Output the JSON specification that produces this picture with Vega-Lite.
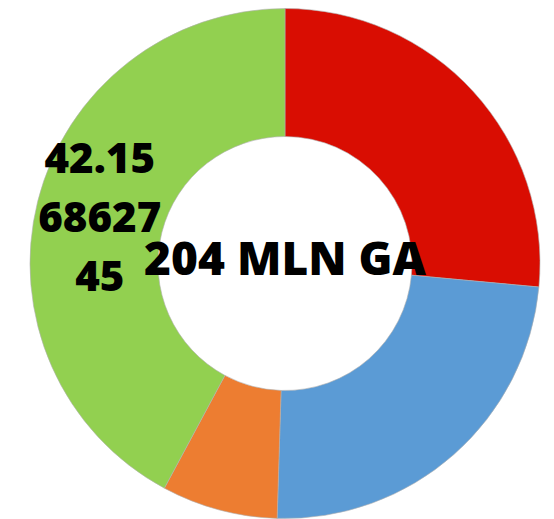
{
  "$schema": "https://vega.github.io/schema/vega-lite/v6.json",
  "width": 554,
  "height": 519,
  "autosize": {"type": "fit", "contains": "padding"},
  "padding": {"left": 16, "top": 8, "right": 0, "bottom": 0},
  "background": "white",
  "view": {"stroke": null},
  "data": {
    "values": [
      {"category": "A", "value": 54, "idx": 1, "label": ""},
      {"category": "B", "value": 49, "idx": 2, "label": ""},
      {"category": "C", "value": 15, "idx": 3, "label": ""},
      {"category": "D", "value": 86, "idx": 4, "label": "42.15\n68627\n45"}
    ]
  },
  "layer": [
    {
      "mark": {"type": "arc", "innerRadius": 127, "outerRadius": 255, "stroke": "#b0b0b0", "strokeWidth": 0.6},
      "encoding": {
        "theta": {"field": "value", "type": "quantitative", "stack": true},
        "order": {"field": "idx", "type": "quantitative"},
        "color": {
          "field": "category",
          "type": "nominal",
          "scale": {"domain": ["A", "B", "C", "D"], "range": ["#D90D02", "#5B9BD5", "#ED7D31", "#92D050"]},
          "legend": null
        }
      }
    },
    {
      "mark": {"type": "text", "radius": 191, "font": "Open Sans", "fontWeight": 800, "fontSize": 42, "lineBreak": "\n", "lineHeight": 59, "color": "black", "align": "center", "baseline": "middle", "dx": 0, "dy": -57},
      "encoding": {
        "theta": {"field": "value", "type": "quantitative", "stack": true},
        "order": {"field": "idx", "type": "quantitative"},
        "text": {"field": "label", "type": "nominal"}
      }
    },
    {
      "data": {"values": [{"title": "204 MLN GA"}]},
      "mark": {"type": "text", "font": "Open Sans", "fontWeight": 800, "fontSize": 46, "color": "black", "align": "center", "baseline": "middle", "dy": -3},
      "encoding": {
        "text": {"field": "title", "type": "nominal"}
      }
    }
  ]
}
